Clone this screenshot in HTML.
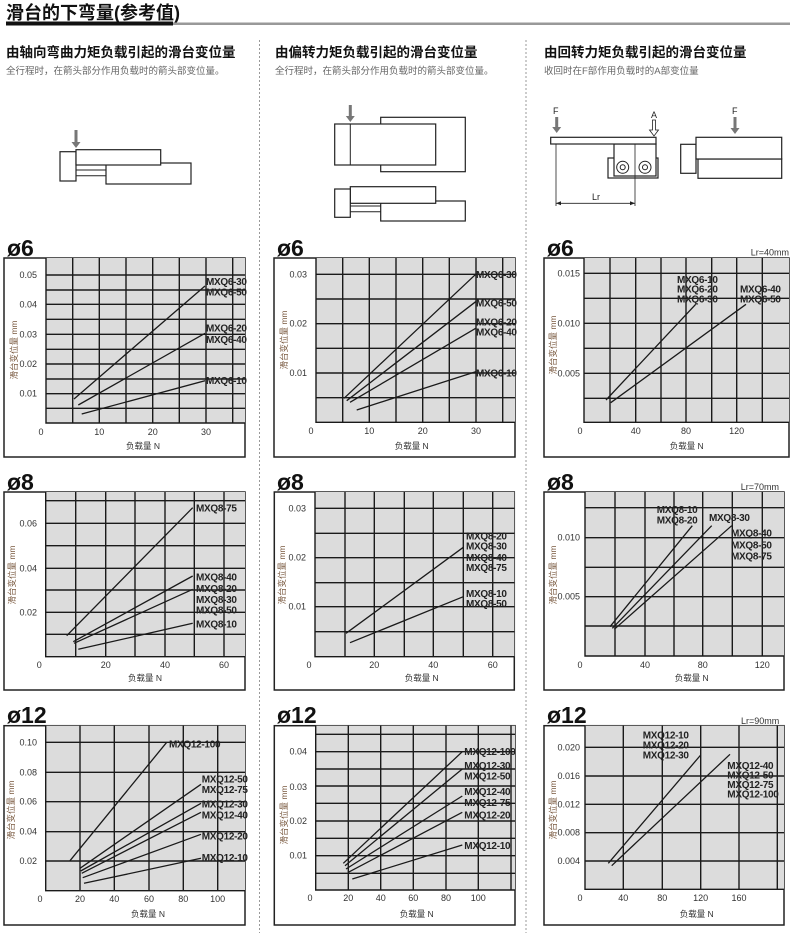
<!DOCTYPE html>
<html><head><meta charset="utf-8"><style>
html,body{margin:0;padding:0;background:#fff;}
svg{display:block;font-family:"Liberation Sans","Noto Sans CJK SC",sans-serif;}
.g{fill:#dcdcdc;stroke:none}
.ob{fill:#fff;stroke:#222;stroke-width:1.5}
.gr{stroke:#1a1a1a;stroke-width:1.4;fill:none}
.ln{stroke:#1a1a1a;stroke-width:1.3;fill:none}
.t{font-size:9px;fill:#333}
.yl{font-size:8.5px;fill:#7a5a40}
.xl{font-size:8.5px;fill:#333}
.s{font-size:10px;font-weight:bold;fill:#222;letter-spacing:-0.3px}
.ti{font-size:23px;font-weight:bold;fill:#111}
.d{stroke:#222;stroke-width:1.2;fill:#fff}
</style></head><body>
<svg width="790" height="933" viewBox="0 0 790 933" xmlns="http://www.w3.org/2000/svg">
<!-- header -->
<text x="6" y="19" font-size="18" font-weight="bold" fill="#111">滑台的下弯量(参考值)</text>
<rect x="6" y="21.5" width="167" height="4" fill="#111"/>
<rect x="173" y="22.5" width="617" height="2.5" fill="#999"/>
<line x1="259.5" y1="40" x2="259.5" y2="933" stroke="#999" stroke-dasharray="2,2"/>
<line x1="526" y1="40" x2="526" y2="933" stroke="#999" stroke-dasharray="2,2"/>
<text x="6" y="57" font-size="13.5" font-weight="bold" fill="#111">由轴向弯曲力矩负载引起的滑台变位量</text>
<text x="6" y="74" font-size="9.5" fill="#666">全行程时，在箭头部分作用负载时的箭头部变位量。</text>
<text x="275" y="57" font-size="13.5" font-weight="bold" fill="#111">由偏转力矩负载引起的滑台变位量</text>
<text x="275" y="74" font-size="9.5" fill="#666">全行程时，在箭头部分作用负载时的箭头部变位量。</text>
<text x="544" y="57" font-size="13.5" font-weight="bold" fill="#111">由回转力矩负载引起的滑台变位量</text>
<text x="544" y="74" font-size="9.5" fill="#666">收回时在F部作用负载时的A部变位量</text>

<!-- diagrams col1 -->
<rect class="d" x="60" y="151.7" width="16" height="29.3"/>
<rect class="d" x="106" y="163" width="85" height="21"/>
<rect class="d" x="76" y="149.7" width="84.7" height="15.3"/>
<line x1="76" y1="170" x2="106" y2="170" stroke="#222"/><line x1="76" y1="175.7" x2="106" y2="175.7" stroke="#222"/>
<path d="M74.5 130h3v12h3l-4.5 6-4.5-6h3z" fill="#777"/>
<!-- col2 -->
<rect class="d" x="380.7" y="117.3" width="84.6" height="54.4"/>
<rect class="d" x="334.7" y="124" width="101" height="41"/>
<line x1="350.3" y1="124" x2="350.3" y2="165" stroke="#222"/>
<path d="M348.8 105h3v11h3l-4.5 6-4.5-6h3z" fill="#777"/>
<rect class="d" x="380.7" y="201" width="84.6" height="20"/>
<rect class="d" x="350.3" y="186.7" width="85.4" height="16.6"/>
<rect class="d" x="334.7" y="189" width="15.6" height="28.3"/>
<line x1="350.3" y1="206" x2="380.7" y2="206" stroke="#222"/><line x1="350.3" y1="211.7" x2="380.7" y2="211.7" stroke="#222"/>
<!-- col3 -->
<text x="553" y="114" font-size="9" fill="#222">F</text>
<path d="M555.2 117h3v10h3l-4.5 6-4.5-6h3z" fill="#777"/>
<rect class="d" x="608" y="158" width="50" height="20"/>
<rect class="d" x="614" y="144" width="42" height="32"/>
<rect class="d" x="550.7" y="137.3" width="105.3" height="6.7"/>
<circle cx="622.7" cy="167.3" r="6" fill="#fff" stroke="#222"/><circle cx="622.7" cy="167.3" r="2.5" fill="none" stroke="#222"/>
<circle cx="645" cy="167.3" r="6" fill="#fff" stroke="#222"/><circle cx="645" cy="167.3" r="2.5" fill="none" stroke="#222"/>
<text x="651" y="118" font-size="9" fill="#222">A</text>
<path d="M652.5 120h3v10h3l-4.5 6-4.5-6h3z" fill="#fff" stroke="#222" stroke-width="0.8"/>
<line x1="556" y1="144" x2="556" y2="206" stroke="#222" stroke-width="0.8"/>
<line x1="635" y1="144" x2="635" y2="206" stroke="#222" stroke-width="0.8"/>
<line x1="556" y1="203.3" x2="635" y2="203.3" stroke="#222" stroke-width="0.8"/>
<path d="M556 203.3l5-2v4zM635 203.3l-5-2v4z" fill="#222"/>
<text x="592" y="200" font-size="9" fill="#222">Lr</text>
<text x="732" y="114" font-size="9" fill="#222">F</text>
<path d="M733.5 117h3v11h3l-4.5 6-4.5-6h3z" fill="#777"/>
<rect class="d" x="680.7" y="144.3" width="15.3" height="29"/>
<rect class="d" x="698" y="159" width="83.7" height="19.3"/>
<rect class="d" x="696" y="137.3" width="85.7" height="21.7"/>

<!-- ===== C1R1 ===== -->
<text class="ti" x="7" y="256">ø6</text>
<rect class="ob" x="4" y="258" width="241" height="199"/>
<rect class="g" x="46" y="258" width="199" height="165"/>
<path class="gr" d="M46 258V423H245M72.7 258V423M99.3 258V423M126 258V423M152.7 258V423M179.3 258V423M206 258V423M232.7 258V423M46 275H245M46 290H245M46 304.3H245M46 319.3H245M46 334.3H245M46 349.3H245M46 364H245M46 379H245M46 393.7H245M46 408.3H245"/>
<g class="t" text-anchor="end"><text x="37" y="278">0.05</text><text x="37" y="307.3">0.04</text><text x="37" y="337.3">0.03</text><text x="37" y="367">0.02</text><text x="37" y="396.7">0.01</text></g>
<g class="t" text-anchor="middle"><text x="41" y="435">0</text><text x="99.3" y="435">10</text><text x="152.7" y="435">20</text><text x="206" y="435">30</text></g>
<text class="xl" x="143" y="449" text-anchor="middle">负载量 N</text>
<text class="yl" transform="translate(17,350) rotate(-90)" text-anchor="middle">滑台变位量 mm</text>
<path class="ln" d="M74 399L205 286M78.3 405L205 333.3M81.7 414L205 380.7"/>
<g class="s"><text x="206" y="285">MXQ6-30</text><text x="206" y="295.5">MXQ6-50</text><text x="206" y="331.5">MXQ6-20</text><text x="206" y="343">MXQ6-40</text><text x="206" y="384">MXQ6-10</text></g>

<!-- ===== C2R1 ===== -->
<text class="ti" x="277" y="256">ø6</text>
<rect class="ob" x="274" y="258" width="241" height="199"/>
<rect class="g" x="316" y="258" width="199" height="164.3"/>
<path class="gr" d="M316 258V422.3H515M342.7 258V422.3M369.3 258V422.3M396 258V422.3M422.7 258V422.3M449.3 258V422.3M476 258V422.3M502.7 258V422.3M316 274.3H515M316 299H515M316 323.7H515M316 348.3H515M316 373H515M316 397.7H515"/>
<g class="t" text-anchor="end"><text x="307" y="277.3">0.03</text><text x="307" y="326.7">0.02</text><text x="307" y="376">0.01</text></g>
<g class="t" text-anchor="middle"><text x="311" y="434">0</text><text x="369.3" y="434">10</text><text x="422.7" y="434">20</text><text x="476" y="434">30</text></g>
<text class="xl" x="411.7" y="449" text-anchor="middle">负载量 N</text>
<text class="yl" transform="translate(287,340) rotate(-90)" text-anchor="middle">滑台变位量 mm</text>
<path class="ln" d="M344 398.3L475.7 274.3M346.7 400.7L475.7 301.7M350 402.3L475.7 328.3M356.7 410L475.7 371.7"/>
<g class="s"><text x="476" y="278">MXQ6-30</text><text x="476" y="306.5">MXQ6-50</text><text x="476" y="325.5">MXQ6-20</text><text x="476" y="335.5">MXQ6-40</text><text x="476" y="376.5">MXQ6-10</text></g>

<!-- ===== C3R1 ===== -->
<text class="ti" x="547" y="256">ø6</text>
<text x="789" y="255.5" font-size="9" fill="#333" text-anchor="end">Lr=40mm</text>
<rect class="ob" x="544" y="258" width="245" height="199"/>
<rect class="g" x="584" y="258" width="205" height="164.3"/>
<path class="gr" d="M584 258V422.3H789M610 258V422.3M635.7 258V422.3M661 258V422.3M686 258V422.3M711.7 258V422.3M736.7 258V422.3M762.3 258V422.3M584 273.3H789M584 298.3H789M584 323.3H789M584 348.3H789M584 373.3H789M584 398.3H789"/>
<g class="t" text-anchor="end"><text x="580" y="276.3">0.015</text><text x="580" y="326.3">0.010</text><text x="580" y="376.3">0.005</text></g>
<g class="t" text-anchor="middle"><text x="580" y="434">0</text><text x="635.7" y="434">40</text><text x="686" y="434">80</text><text x="736.7" y="434">120</text></g>
<text class="xl" x="686.7" y="449" text-anchor="middle">负载量 N</text>
<text class="yl" transform="translate(556,345) rotate(-90)" text-anchor="middle">滑台变位量 mm</text>
<path class="ln" d="M606 400L695.7 304.3M610.7 402.7L746 304.3"/>
<g class="s"><text x="677" y="283">MXQ6-10</text><text x="677" y="292.5">MXQ6-20</text><text x="677" y="302.5">MXQ6-30</text><text x="740" y="292.5">MXQ6-40</text><text x="740" y="302.5">MXQ6-50</text></g>

<!-- ===== C1R2 ===== -->
<text class="ti" x="7" y="490">ø8</text>
<rect class="ob" x="4" y="492" width="241" height="198"/>
<rect class="g" x="45.7" y="492" width="199.3" height="164.7"/>
<path class="gr" d="M45.7 492V656.7H245M75.7 492V656.7M105.7 492V656.7M135 492V656.7M165 492V656.7M194.3 492V656.7M224 492V656.7M45.7 500.7H245M45.7 523.3H245M45.7 545.7H245M45.7 568.3H245M45.7 590H245M45.7 612.3H245M45.7 634.3H245"/>
<g class="t" text-anchor="end"><text x="37" y="526.3">0.06</text><text x="37" y="571.3">0.04</text><text x="37" y="615.3">0.02</text></g>
<g class="t" text-anchor="middle"><text x="39.3" y="668">0</text><text x="105.7" y="668">20</text><text x="165" y="668">40</text><text x="224" y="668">60</text></g>
<text class="xl" x="145" y="681" text-anchor="middle">负载量 N</text>
<text class="yl" transform="translate(15,575) rotate(-90)" text-anchor="middle">滑台变位量 mm</text>
<path class="ln" d="M66.7 635.7L192.7 507.7M73.3 641.7L192.7 576M74 643.3L192.7 589.3M78.3 649.3L192.7 623.3"/>
<g class="s"><text x="196" y="511.5">MXQ8-75</text><text x="196" y="580.5">MXQ8-40</text><text x="196" y="592">MXQ8-20</text><text x="196" y="603">MXQ8-30</text><text x="196" y="613.5">MXQ8-50</text><text x="196" y="627.5">MXQ8-10</text></g>

<!-- ===== C2R2 ===== -->
<text class="ti" x="277" y="490">ø8</text>
<rect class="ob" x="274.3" y="492" width="240" height="198"/>
<rect class="g" x="315" y="492" width="199.3" height="164.7"/>
<path class="gr" d="M315 492V656.7H514.3M345 492V656.7M374.3 492V656.7M404.3 492V656.7M433.3 492V656.7M463.3 492V656.7M492.7 492V656.7M315 508.3H514.3M315 533.3H514.3M315 557.7H514.3M315 582.7H514.3M315 606.7H514.3M315 631.7H514.3"/>
<g class="t" text-anchor="end"><text x="306" y="511.3">0.03</text><text x="306" y="560.7">0.02</text><text x="306" y="609.7">0.01</text></g>
<g class="t" text-anchor="middle"><text x="309" y="668">0</text><text x="374.3" y="668">20</text><text x="433.3" y="668">40</text><text x="492.7" y="668">60</text></g>
<text class="xl" x="421.7" y="681" text-anchor="middle">负载量 N</text>
<text class="yl" transform="translate(285,575) rotate(-90)" text-anchor="middle">滑台变位量 mm</text>
<path class="ln" d="M346 633.3L463.3 547.3M350 642.7L463.3 596.7"/>
<g class="s"><text x="466" y="539.5">MXQ8-20</text><text x="466" y="549.5">MXQ8-30</text><text x="466" y="561">MXQ8-40</text><text x="466" y="571">MXQ8-75</text><text x="466" y="597">MXQ8-10</text><text x="466" y="607">MXQ8-50</text></g>

<!-- ===== C3R2 ===== -->
<text class="ti" x="547" y="490">ø8</text>
<text x="779" y="490" font-size="9" fill="#333" text-anchor="end">Lr=70mm</text>
<rect class="ob" x="544" y="492" width="240" height="198"/>
<rect class="g" x="585" y="492" width="199" height="164"/>
<path class="gr" d="M585 492V656H784M615 492V656M645 492V656M674 492V656M702.7 492V656M732.3 492V656M762.3 492V656M585 507.7H784M585 537.7H784M585 567.3H784M585 596.7H784M585 626H784"/>
<g class="t" text-anchor="end"><text x="580" y="540.7">0.010</text><text x="580" y="599.7">0.005</text></g>
<g class="t" text-anchor="middle"><text x="580" y="668">0</text><text x="645" y="668">40</text><text x="702.7" y="668">80</text><text x="762.3" y="668">120</text></g>
<text class="xl" x="691.7" y="681" text-anchor="middle">负载量 N</text>
<text class="yl" transform="translate(556,575) rotate(-90)" text-anchor="middle">滑台变位量 mm</text>
<path class="ln" d="M610 626.7L692.3 525.7M612.3 628.3L711.7 525.7M614.3 629.3L731.7 525.7"/>
<g class="s"><text x="656.7" y="513">MXQ8-10</text><text x="656.7" y="523.5">MXQ8-20</text><text x="709" y="521">MXQ8-30</text><text x="731" y="536.5">MXQ8-40</text><text x="731" y="548.5">MXQ8-50</text><text x="731" y="559.5">MXQ8-75</text></g>

<!-- ===== C1R3 ===== -->
<text class="ti" x="7" y="723">ø12</text>
<rect class="ob" x="4" y="725.7" width="241" height="199.3"/>
<rect class="g" x="45.7" y="725.7" width="199.3" height="165"/>
<path class="gr" d="M45.7 725.7V890.7H245M80 725.7V890.7M114.3 725.7V890.7M149 725.7V890.7M183.3 725.7V890.7M217.7 725.7V890.7M45.7 742.3H245M45.7 772.3H245M45.7 801.7H245M45.7 831.7H245M45.7 861H245"/>
<g class="t" text-anchor="end"><text x="37" y="745.3">0.10</text><text x="37" y="775.3">0.08</text><text x="37" y="804.7">0.06</text><text x="37" y="834.7">0.04</text><text x="37" y="864">0.02</text></g>
<g class="t" text-anchor="middle"><text x="40" y="902">0</text><text x="80" y="902">20</text><text x="114.3" y="902">40</text><text x="149" y="902">60</text><text x="183.3" y="902">80</text><text x="217.7" y="902">100</text></g>
<text class="xl" x="148" y="917" text-anchor="middle">负载量 N</text>
<text class="yl" transform="translate(14,810) rotate(-90)" text-anchor="middle">滑台变位量 mm</text>
<path class="ln" d="M70 860.7L166.7 742.3M80 868.3L201 784.3M80.7 871L201 803.3M81.7 873.3L201 812.3M82.7 877.7L201 834.3M84 883.3L201 858.3"/>
<g class="s"><text x="169" y="747.5">MXQ12-100</text><text x="201.7" y="782.5">MXQ12-50</text><text x="201.7" y="792.8">MXQ12-75</text><text x="201.7" y="807.5">MXQ12-30</text><text x="201.7" y="818.5">MXQ12-40</text><text x="201.7" y="839.5">MXQ12-20</text><text x="201.7" y="861">MXQ12-10</text></g>

<!-- ===== C2R3 ===== -->
<text class="ti" x="277" y="723">ø12</text>
<rect class="ob" x="274.3" y="725.7" width="240.7" height="199.3"/>
<rect class="g" x="315.7" y="725.7" width="199.3" height="164.3"/>
<path class="gr" d="M315.7 725.7V890H515M348.3 725.7V890M380.7 725.7V890M413.3 725.7V890M446 725.7V890M478.3 725.7V890M511 725.7V890M315.7 734.3H515M315.7 751.7H515M315.7 769H515M315.7 786H515M315.7 803.3H515M315.7 821H515M315.7 838.3H515M315.7 855.7H515M315.7 873.3H515"/>
<g class="t" text-anchor="end"><text x="307" y="754.7">0.04</text><text x="307" y="790">0.03</text><text x="307" y="824">0.02</text><text x="307" y="858.7">0.01</text></g>
<g class="t" text-anchor="middle"><text x="310" y="901">0</text><text x="348.3" y="901">20</text><text x="380.7" y="901">40</text><text x="413.3" y="901">60</text><text x="446" y="901">80</text><text x="478.3" y="901">100</text></g>
<text class="xl" x="416.7" y="917" text-anchor="middle">负载量 N</text>
<text class="yl" transform="translate(287,815) rotate(-90)" text-anchor="middle">滑台变位量 mm</text>
<path class="ln" d="M343.3 863.3L462.3 751.7M345 865.7L462.3 769M346 869L462.3 796M348.3 872.3L462.3 812.3M352.3 879L462.3 845"/>
<g class="s"><text x="464.3" y="755">MXQ12-100</text><text x="464.3" y="769">MXQ12-30</text><text x="464.3" y="779.5">MXQ12-50</text><text x="464.3" y="795">MXQ12-40</text><text x="464.3" y="806">MXQ12-75</text><text x="464.3" y="818.5">MXQ12-20</text><text x="464.3" y="849">MXQ12-10</text></g>

<!-- ===== C3R3 ===== -->
<text class="ti" x="547" y="723">ø12</text>
<text x="779.3" y="724" font-size="9" fill="#333" text-anchor="end">Lr=90mm</text>
<rect class="ob" x="544" y="725.7" width="240" height="199.3"/>
<rect class="g" x="585" y="725.7" width="199" height="163.6"/>
<path class="gr" d="M585 725.7V889.3H784M623.3 725.7V889.3M662.3 725.7V889.3M700.7 725.7V889.3M739 725.7V889.3M777.3 725.7V889.3M585 747.3H784M585 776H784M585 804.3H784M585 832.7H784M585 861H784"/>
<g class="t" text-anchor="end"><text x="580" y="750.3">0.020</text><text x="580" y="779">0.016</text><text x="580" y="807.3">0.012</text><text x="580" y="835.7">0.008</text><text x="580" y="864">0.004</text></g>
<g class="t" text-anchor="middle"><text x="580" y="901">0</text><text x="623.3" y="901">40</text><text x="662.3" y="901">80</text><text x="700.7" y="901">120</text><text x="739" y="901">160</text></g>
<text class="xl" x="696.7" y="917" text-anchor="middle">负载量 N</text>
<text class="yl" transform="translate(556,810) rotate(-90)" text-anchor="middle">滑台变位量 mm</text>
<path class="ln" d="M608.3 863.3L700.7 755M611.7 865.7L730 754.3"/>
<g class="s"><text x="642.7" y="738.5">MXQ12-10</text><text x="642.7" y="748.5">MXQ12-20</text><text x="642.7" y="758.5">MXQ12-30</text><text x="727.3" y="769">MXQ12-40</text><text x="727.3" y="778.5">MXQ12-50</text><text x="727.3" y="788">MXQ12-75</text><text x="727.3" y="797.5">MXQ12-100</text></g>
</svg>
</body></html>
